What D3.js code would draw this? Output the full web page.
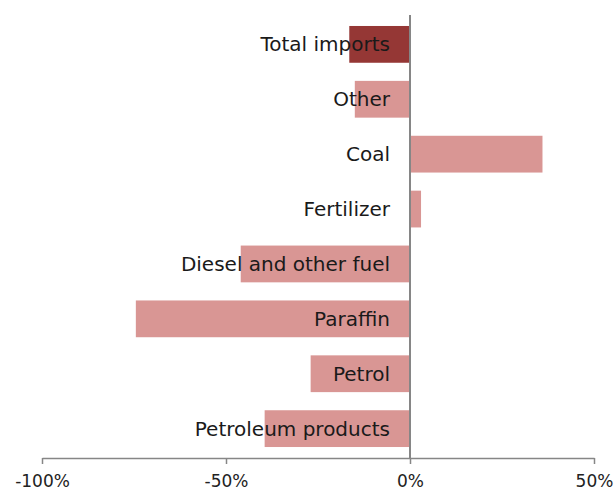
<!DOCTYPE html>
<html>
  <head>
    <title>Imports change</title>
    <script src="https://cdn.jsdelivr.net/npm/d3@7"></script>
    <style>
      body { margin: 0; background: #fff; }
      text { font-family: 'DejaVu Sans', sans-serif; }
    </style>
  </head>
  <body>
    <svg width="616" height="494" id="mainsvg"></svg>
    <script>
      const categories = ['Total imports', 'Other', 'Coal', 'Fertilizer', 'Diesel and other fuel', 'Paraffin', 'Petrol', 'Petroleum products'];
      const values = [-16.5, -15, 36, 3, -46, -74.5, -27, -39.5];
      const tickValues = [-100, -50, 0, 50];

      const svg = d3.select('#mainsvg');
      const margin = {top: 15, right: 22, bottom: 36, left: 42};
      const innerWidth = 616 - margin.left - margin.right;
      const innerHeight = 494 - margin.top - margin.bottom;

      const xScale = d3.scaleLinear().domain([-100, 50]).range([0, innerWidth]);
      const yScale = d3.scaleBand().domain(categories).range([0, innerHeight]).paddingInner(0.33).paddingOuter(0.2);

      const g = svg.append('g').attr('transform', `translate(${margin.left}, ${margin.top})`);

      // bars
      g.selectAll('rect')
        .data(categories)
        .enter().append('rect')
        .attr('x', (d, i) => xScale(Math.min(0, values[i])))
        .attr('width', (d, i) => Math.abs(xScale(values[i]) - xScale(0)))
        .attr('y', d => yScale(d))
        .attr('height', yScale.bandwidth())
        .attr('fill', (d, i) => i === 0 ? '#953735' : '#d99694');

      // zero line
      g.append('line')
        .attr('x1', xScale(0)).attr('x2', xScale(0))
        .attr('y1', 0).attr('y2', innerHeight)
        .attr('stroke', '#868686').attr('stroke-width', 2);

      // x axis
      const xAxis = d3.axisBottom(xScale)
        .tickValues(tickValues)
        .tickFormat(d => d + '%')
        .tickSize(6)
        .tickSizeOuter(0);
      const xAxisGroup = g.append('g').attr('transform', `translate(0, ${innerHeight})`).call(xAxis);
      xAxisGroup.select('.domain').attr('stroke', '#868686').attr('stroke-width', 1.5);
      xAxisGroup.selectAll('.tick line').attr('stroke', '#868686').attr('stroke-width', 1.5);
      xAxisGroup.selectAll('.tick text')
        .attr('y', 17)
        .attr('font-size', 17)
        .attr('font-family', 'DejaVu Sans, sans-serif')
        .attr('fill', '#222');

      // category labels
      g.selectAll('.cat')
        .data(categories)
        .enter().append('text')
        .attr('class', 'cat')
        .attr('x', xScale(0) - 20)
        .attr('y', d => yScale(d) + yScale.bandwidth() / 2)
        .attr('dy', '0.35em')
        .attr('text-anchor', 'end')
        .attr('font-size', 20)
        .attr('fill', '#1a1a1a')
        .text(d => d);
    </script>
  </body>
</html>
